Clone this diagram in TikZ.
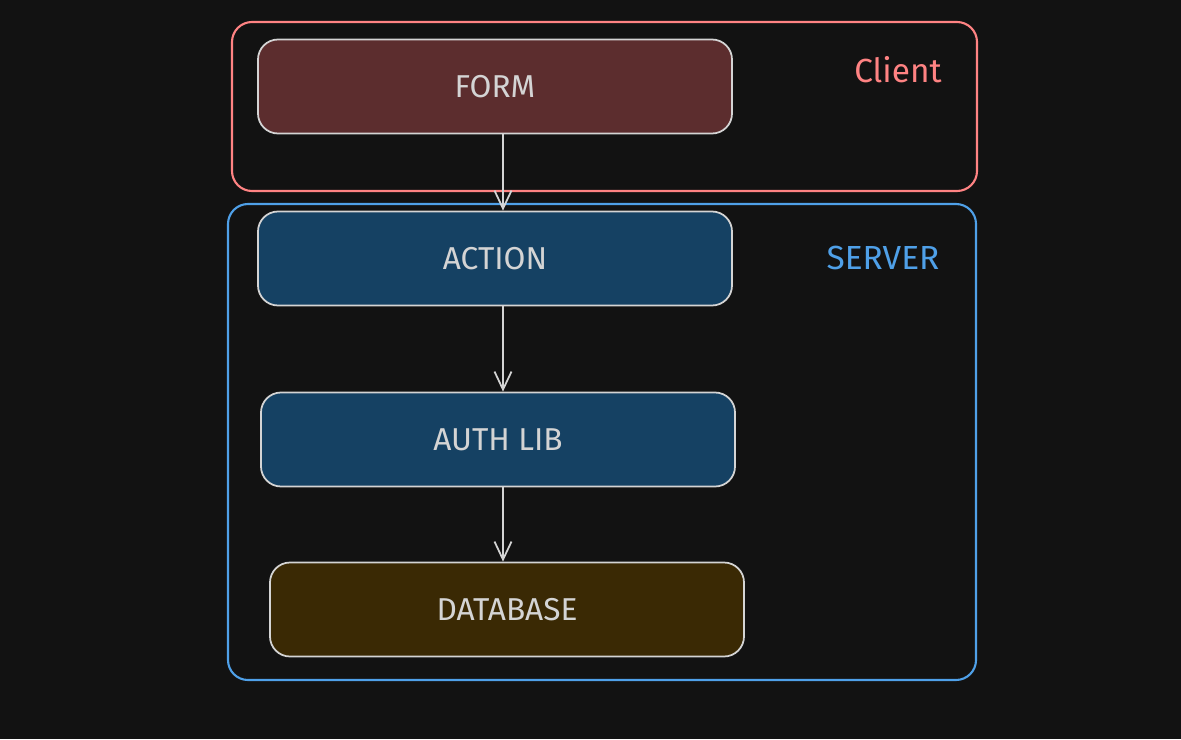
\documentclass[tikz,border=0pt]{standalone}
\usepackage{fontspec}
\setmainfont{Fira Sans}
\usepackage{xcolor}
\usetikzlibrary{positioning,arrows.meta}

\definecolor{bgdark}{HTML}{121212}
\definecolor{strokegray}{HTML}{D4D4D4}
\definecolor{clientred}{HTML}{FF8383}
\definecolor{serverblue}{HTML}{4FA0E8}
\definecolor{formfill}{HTML}{5C2D2E}
\definecolor{actfill}{HTML}{154163}
\definecolor{dbfill}{HTML}{3A2904}

\begin{document}
\begin{tikzpicture}[font=\fontsize{18}{21}\selectfont,>={Straight Barb[length=0.36cm,width=0.34cm]},
  blk/.style={draw=strokegray,line width=1pt,rounded corners=0.4cm,text=strokegray,
    minimum width=9.48cm,minimum height=1.88cm,inner sep=0pt},
  frm/.style={rounded corners=0.4cm,line width=1.2pt},
  tag/.style={font=\fontsize{19}{21}\selectfont},
  flow/.style={->,draw=strokegray,line width=1pt}]
\fill[bgdark] (0,0) rectangle (23.62,-14.78);
\useasboundingbox (0,0) rectangle (23.62,-14.78);
% frames
\draw[frm,clientred] (4.64,-0.44) rectangle (19.54,-3.82);
\draw[frm,serverblue] (4.56,-4.08) rectangle (19.52,-13.6);
\node[tag,text=clientred] (client) at (17.96,-1.4) {Client};
\node[tag,text=serverblue] (server) at (17.66,-5.16) {SERVER};
% blocks
\node[blk,fill=formfill] (form) at (9.9,-1.73) {FORM};
\node[blk,fill=actfill] (action) at (9.9,-5.17) {ACTION};
\node[blk,fill=actfill] (auth) at (9.96,-8.79) {AUTH LIB};
\node[blk,fill=dbfill] (db) at (10.14,-12.19) {DATABASE};
\coordinate (a1) at ([xshift=0.16cm]form.south);
\coordinate (a2) at ([xshift=0.16cm]action.south);
\draw[flow] (a1) -- (a1 |- action.north);
\draw[flow] (a2) -- (a2 |- auth.north);
\draw[flow] (a2 |- auth.south) -- (a2 |- db.north);
\end{tikzpicture}
\end{document}
